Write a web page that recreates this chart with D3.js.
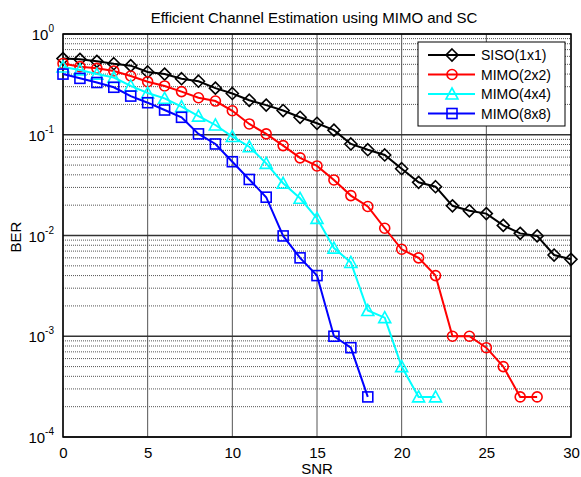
<!DOCTYPE html>
<html>
<head>
<meta charset="utf-8">
<script src="https://cdn.jsdelivr.net/npm/d3@7"></script>
<style>
  body { margin: 0; background: #fff; }
  text { font-family: "Liberation Sans", Arial, sans-serif; }
</style>
</head>
<body>
<svg id="canvas" width="581" height="477"></svg>
<script>
const snr = d3.range(0, 31);
const SERIES_NAMES = ['SISO(1x1)', 'MIMO(2x2)', 'MIMO(4x4)', 'MIMO(8x8)'];
const SERIES_COLORS = ['#000000', '#ff0000', '#00ffff', '#0000ff'];
const SERIES_MARKERS = ['diamond', 'circle', 'triangle', 'square'];

const siso = [0.57, 0.56, 0.535, 0.507, 0.485, 0.42, 0.40, 0.36, 0.34, 0.29, 0.257,
  0.22, 0.197, 0.174, 0.149, 0.13, 0.111, 0.081, 0.071, 0.063, 0.046,
  0.0337, 0.0305, 0.0197, 0.0176, 0.0165, 0.0126, 0.0105, 0.0099, 0.0064, 0.0058];
const mimo2 = [0.51, 0.474, 0.456, 0.43, 0.383, 0.336, 0.305, 0.268, 0.233, 0.216, 0.173,
  0.128, 0.102, 0.078, 0.059, 0.049, 0.0356, 0.0249, 0.0194, 0.0118, 0.0073,
  0.006, 0.004, 0.001, 0.001, 0.00077, 0.0005, 0.00025, 0.00025];
const mimo4 = [0.47, 0.44, 0.40, 0.37, 0.305, 0.26, 0.23, 0.19, 0.153, 0.125, 0.096,
  0.076, 0.052, 0.033, 0.0234, 0.0148, 0.0075, 0.0054, 0.0018, 0.00153, 0.0005,
  0.00025, 0.00025];
const mimo8 = [0.40, 0.363, 0.33, 0.296, 0.242, 0.208, 0.176, 0.149, 0.102, 0.081, 0.054,
  0.036, 0.024, 0.0099, 0.006, 0.004, 0.001, 0.00077, 0.00025];

const xTicks = [0, 5, 10, 15, 20, 25, 30];
const yDecades = [-4, -3, -2, -1, 0];

const svg = d3.select('#canvas');
const plotL = 63, plotR = 571, plotT = 34, plotB = 437;

const x = d3.scaleLinear().domain([0, 30]).range([plotL, plotR]);
const y = d3.scaleLog().domain([1e-4, 1]).range([plotB, plotT]);

// minor grid (dotted)
let minors = [];
for (let e = -4; e < 0; e++) {
  for (let m = 2; m <= 9; m++) minors.push(m * Math.pow(10, e));
}
svg.append('g').selectAll('line').data(minors).join('line')
  .attr('x1', plotL).attr('x2', plotR)
  .attr('y1', d => y(d)).attr('y2', d => y(d))
  .attr('stroke', '#555').attr('stroke-width', 1)
  .attr('stroke-dasharray', '1,1');

// major grid
svg.append('g').selectAll('line').data(xTicks).join('line')
  .attr('x1', d => x(d)).attr('x2', d => x(d))
  .attr('y1', plotT).attr('y2', plotB)
  .attr('stroke', '#555').attr('stroke-width', 1);
svg.append('g').selectAll('line').data(yDecades).join('line')
  .attr('x1', plotL).attr('x2', plotR)
  .attr('y1', d => y(Math.pow(10, d))).attr('y2', d => y(Math.pow(10, d)))
  .attr('stroke', '#333').attr('stroke-width', 1.3);

// axes
const xAxis = d3.axisBottom(x).tickValues(xTicks).tickSize(0).tickPadding(10);
const gx = svg.append('g').attr('transform', `translate(0,${plotB})`).call(xAxis);
gx.select('.domain').remove();
gx.selectAll('text').attr('font-size', 15).attr('fill', '#000')
  .style('font-family', '"Liberation Sans", Arial, sans-serif');

const gy = svg.append('g');
yDecades.forEach(e => {
  const t = gy.append('text')
    .attr('x', plotL - 9).attr('y', y(Math.pow(10, e)) + 6)
    .attr('text-anchor', 'end').attr('font-size', 15);
  t.append('tspan').text('10');
  t.append('tspan').attr('dy', -8).attr('font-size', 10).text(e);
});

// frame
svg.append('rect').attr('x', plotL).attr('y', plotT)
  .attr('width', plotR - plotL).attr('height', plotB - plotT)
  .attr('fill', 'none').attr('stroke', '#000').attr('stroke-width', 1.5);

// series
const allSeries = [siso, mimo2, mimo4, mimo8];
const line = d3.line().x((d, i) => x(snr[i])).y(d => y(d));

function drawMarker(g, type, cx, cy, color) {
  if (type === 'diamond') {
    g.append('path').attr('d', `M${cx},${cy - 6}L${cx + 6},${cy}L${cx},${cy + 6}L${cx - 6},${cy}Z`)
      .attr('fill', 'none').attr('stroke', color).attr('stroke-width', 1.6);
  } else if (type === 'circle') {
    g.append('circle').attr('cx', cx).attr('cy', cy).attr('r', 5)
      .attr('fill', 'none').attr('stroke', color).attr('stroke-width', 1.6);
  } else if (type === 'triangle') {
    g.append('path').attr('d', `M${cx},${cy - 6}L${cx + 6},${cy + 5}L${cx - 6},${cy + 5}Z`)
      .attr('fill', 'none').attr('stroke', color).attr('stroke-width', 1.6);
  } else {
    g.append('rect').attr('x', cx - 5).attr('y', cy - 5).attr('width', 10).attr('height', 10)
      .attr('fill', 'none').attr('stroke', color).attr('stroke-width', 1.6);
  }
}

allSeries.forEach((data, k) => {
  const g = svg.append('g');
  g.append('path').datum(data).attr('d', line)
    .attr('fill', 'none').attr('stroke', SERIES_COLORS[k]).attr('stroke-width', 2);
  data.forEach((d, i) => drawMarker(g, SERIES_MARKERS[k], x(snr[i]), y(d), SERIES_COLORS[k]));
});

// legend
const lg = svg.append('g');
lg.append('rect').attr('x', 418).attr('y', 42).attr('width', 147).attr('height', 84)
  .attr('fill', '#fff').attr('stroke', '#000').attr('stroke-width', 1);
SERIES_NAMES.forEach((name, k) => {
  const ly = 55 + k * 19.5;
  lg.append('line').attr('x1', 428).attr('x2', 475).attr('y1', ly).attr('y2', ly)
    .attr('stroke', SERIES_COLORS[k]).attr('stroke-width', 2);
  drawMarker(lg, SERIES_MARKERS[k], 452, ly, SERIES_COLORS[k]);
  lg.append('text').attr('x', 481).attr('y', ly + 5).attr('font-size', 14).text(name);
});

// labels
svg.append('text').attr('x', 314).attr('y', 23).attr('text-anchor', 'middle')
  .attr('font-size', 15).text('Efficient Channel Estimation using MIMO and SC');
svg.append('text').attr('x', 317).attr('y', 474).attr('text-anchor', 'middle')
  .attr('font-size', 15).text('SNR');
svg.append('text').attr('transform', 'translate(21,237) rotate(-90)')
  .attr('text-anchor', 'middle').attr('font-size', 15).text('BER');
</script>
</body>
</html>
